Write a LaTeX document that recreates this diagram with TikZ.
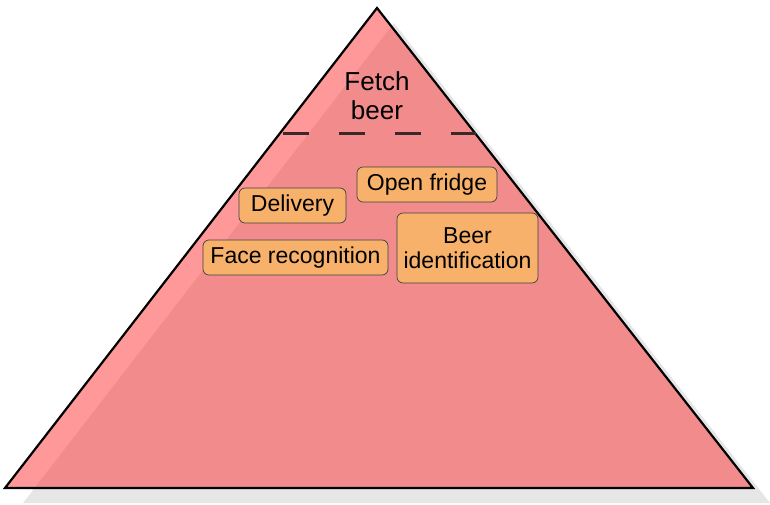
\documentclass[tikz,border=0pt]{standalone}
\usepackage{fontspec}
\setmainfont{Liberation Sans}
\definecolor{pyrfill}{RGB}{255,51,51}
\definecolor{shadowgray}{RGB}{230,230,230}
\definecolor{boxfill}{RGB}{247,177,107}
\definecolor{dashcol}{RGB}{60,40,40}
\tikzset{
  box/.style={draw=black!75, line width=0.7pt, fill=boxfill, rounded corners=6pt,
    inner sep=0pt, align=center, font=\fontsize{23}{25}\selectfont},
  title/.style={align=center, font=\fontsize{26}{29}\selectfont, inner sep=0pt},
}
\begin{document}
\begin{tikzpicture}[x=1pt,y=-1pt]
\useasboundingbox (0,0) rectangle (770,505);
% shadow
\coordinate (sa) at (394,23);
\coordinate (sl) at (23,503);
\coordinate (sr) at (770,503);
\fill[shadowgray] (sa) -- (sl) -- (sr) -- cycle;
% pyramid
\coordinate (apex) at (377,8);
\coordinate (bl) at (5,488);
\coordinate (br) at (753,488);
\fill[pyrfill, fill opacity=0.5] (apex) -- (bl) -- (br) -- cycle;
\draw[line width=2.2pt, line join=miter] (apex) -- (bl) -- (br) -- cycle;
% dashed separator
\coordinate (dl) at (280,134);
\coordinate (dr) at (476,134);
\draw[dashcol, line width=3pt, dash pattern=on 26pt off 30pt, dash phase=-3pt] (dl) -- (dr);
% title
\node[title] (fetch) at (377,96) {Fetch\\beer};
% boxes
\node[box, minimum width=140pt, minimum height=35pt] (open) at (427,184.5) {Open fridge};
\node[box, minimum width=107pt, minimum height=35pt] (deliv) at (292.5,205.5) {Delivery};
\node[box, minimum width=185pt, minimum height=35pt] (face) at (295.5,257.5) {Face recognition};
\node[box, minimum width=141pt, minimum height=70pt] (beerid) at (467.5,248) {Beer\\identification};
\end{tikzpicture}
\end{document}
